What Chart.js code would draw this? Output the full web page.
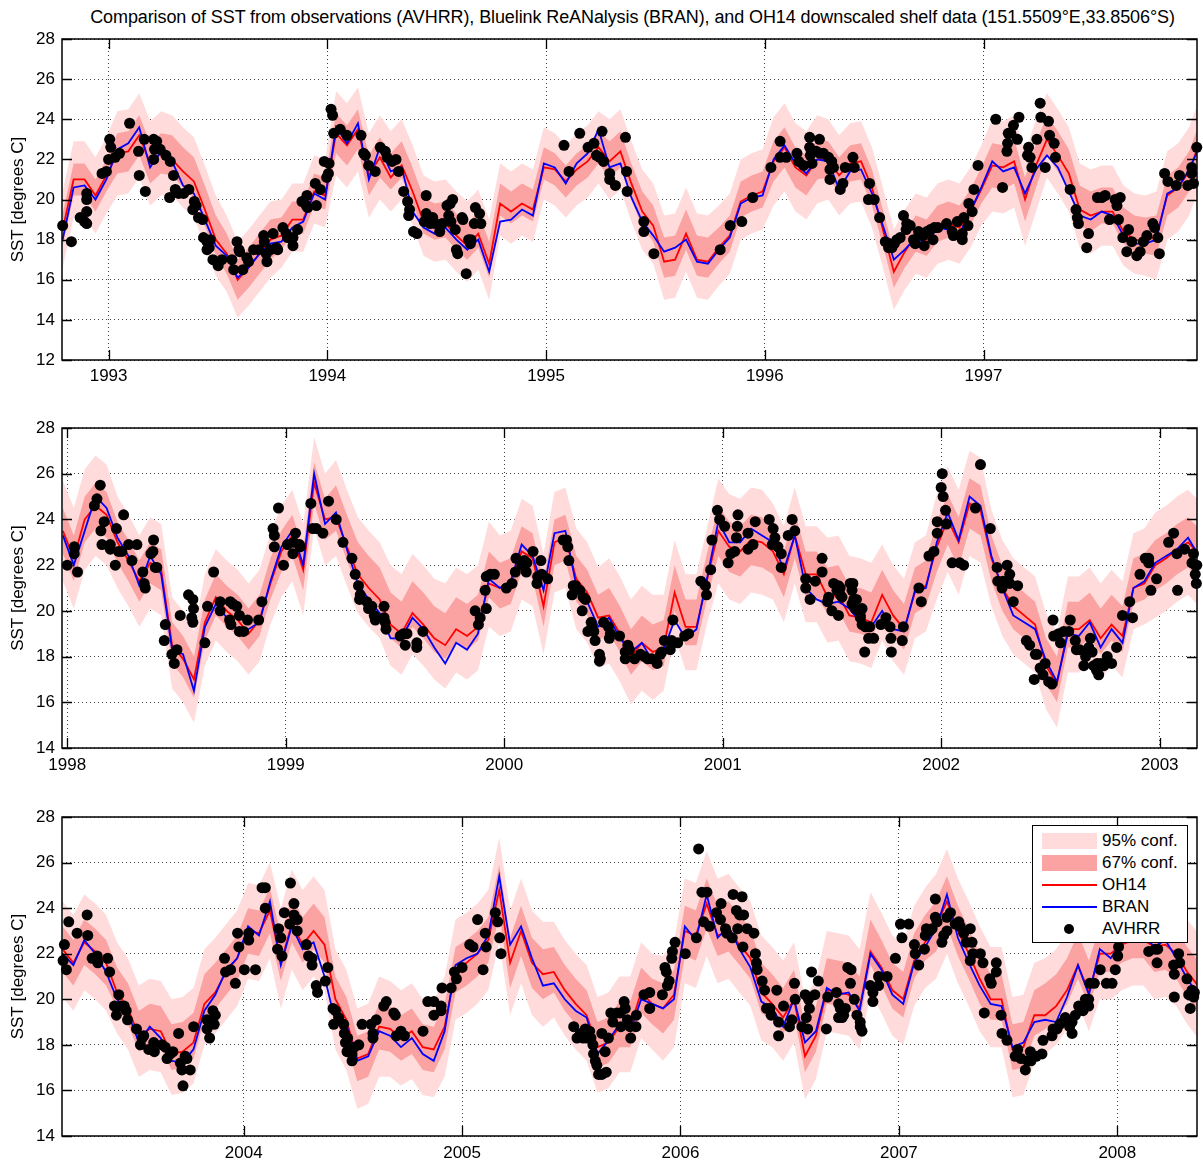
<!DOCTYPE html>
<html>
<head>
<meta charset="utf-8">
<title>SST comparison</title>
<script src="https://cdn.jsdelivr.net/npm/chart.js@4.4.1/dist/chart.umd.min.js"></script>
<style>
  body { margin: 0; background: #fff; font-family: "Liberation Sans", Arial, sans-serif; }
  #page { position: relative; width: 1203px; height: 1164px; overflow: hidden; }
  #title { position: absolute; top: 7px; left: 62px; width: 1141px; text-align: center; font-size: 18px; letter-spacing: -0.1px; color: #000; white-space: nowrap; }
  canvas { position: absolute; left: 0; }
  #legend { position: absolute; left: 1032px; top: 825px; width: 154px; height: 116px; border: 1px solid #000; background: #fff; z-index: 5; }
  #legend .row { position: absolute; left: 0; height: 22px; width: 154px; font-size: 17px; line-height: 22px; }
  #legend .txt { position: absolute; left: 69px; top: 0; }
  #legend .box { position: absolute; left: 9px; top: 3px; width: 55px; height: 16px; }
  #legend .ln { position: absolute; left: 9px; top: 10px; width: 55px; height: 2px; }
  #legend .dot { position: absolute; left: 31px; top: 6px; width: 10px; height: 10px; border-radius: 50%; background: #000; }
</style>
</head>
<body>
<div id="page">
  <div id="title">Comparison of SST from observations (AVHRR), Bluelink ReANalysis (BRAN), and OH14 downscaled shelf data (151.5509°E,33.8506°S)</div>
  <canvas id="panel1" width="1203" height="390" style="top:0px"></canvas>
  <canvas id="panel2" width="1203" height="390" style="top:390px"></canvas>
  <canvas id="panel3" width="1203" height="384" style="top:780px"></canvas>
  <div id="legend">
    <div class="row" style="top:4px"><span class="box" style="background:rgb(255,219,219)"></span><span class="txt">95% conf.</span></div>
    <div class="row" style="top:26px"><span class="box" style="background:rgb(251,163,163)"></span><span class="txt">67% conf.</span></div>
    <div class="row" style="top:48px"><span class="ln" style="background:#f00"></span><span class="txt">OH14</span></div>
    <div class="row" style="top:70px"><span class="ln" style="background:#00f"></span><span class="txt">BRAN</span></div>
    <div class="row" style="top:92px"><span class="dot"></span><span class="txt">AVHRR</span></div>
  </div>
</div>
<script>
// model output sampled every 0.05 yr from the panel start
const STEP = 0.05;

const p1Start = 1992.79;
const p1Years = [1993, 1994, 1995, 1996, 1997];
const p1Oh14 = [
  18.5, 21.0, 21.0, 20.2, 21.2, 22.3, 22.4, 23.2, 21.8, 22.3,
  22.0, 21.4, 20.9, 19.5, 18.0, 17.3, 16.0, 16.6, 17.3, 18.0,
  18.2, 19.0, 19.0, 20.4, 20.2, 23.3, 22.7, 23.5, 21.2, 22.1,
  21.1, 21.7, 20.4, 18.9, 18.6, 18.8, 18.2, 17.7, 18.3, 16.8,
  19.8, 19.4, 19.8, 19.5, 21.6, 21.5, 20.9, 21.5, 21.9, 22.6,
  21.9, 22.4, 20.8, 19.4, 18.7, 16.9, 17.0, 18.3, 17.0, 16.9,
  17.6, 18.2, 19.9, 20.2, 20.4, 21.9, 22.6, 21.6, 21.2, 22.0,
  22.0, 21.2, 21.8, 21.9, 20.6, 18.5, 16.4, 17.4, 18.2, 18.0,
  18.6, 18.8, 18.6, 19.4, 20.5, 21.7, 21.6, 21.9, 20.0, 21.7,
  23.0, 22.2, 21.3, 19.5, 19.2, 19.4, 19.4, 18.4, 18.0, 17.9,
  18.2, 20.2, 20.6, 21.4, 22.9
];
const p1Bran = [
  18.0, 20.6, 20.7, 20.0, 21.0, 22.5, 22.8, 23.6, 21.6, 22.4,
  21.9, 20.7, 20.3, 19.0, 17.7, 17.2, 16.1, 16.6, 17.3, 17.8,
  17.9, 18.6, 18.9, 20.3, 20.0, 23.6, 22.8, 23.8, 21.0, 22.6,
  21.4, 21.6, 19.4, 18.6, 18.3, 18.6, 18.0, 17.5, 18.0, 16.4,
  18.9, 19.0, 19.5, 19.2, 21.8, 21.6, 20.8, 21.8, 22.3, 23.5,
  21.6, 21.8, 20.1, 18.9, 18.2, 17.4, 17.6, 18.0, 16.9, 16.8,
  17.5, 18.1, 19.8, 20.1, 20.2, 22.0, 22.7, 21.8, 21.3, 22.0,
  21.9, 20.5, 21.4, 21.5, 20.3, 18.7, 17.0, 17.5, 18.1, 17.8,
  18.6, 18.5, 18.3, 19.4, 20.6, 21.9, 21.4, 21.6, 20.3, 21.5,
  22.2, 21.6, 20.4, 19.2, 19.0, 19.4, 19.2, 18.2, 17.8, 17.8,
  18.0, 20.3, 20.6, 21.5, 22.7
];
// confidence band half widths and centre offsets, one value per 0.25 yr
const p1Hw95 = [1.9, 2.1, 2.0, 1.9, 1.7, 2.1, 2.0, 2.0, 1.8, 1.8, 2.0, 2.1, 2.0, 2.2, 2.0, 2.0, 2.0, 2.3, 2.1, 2.0, 2.2];
const p1Hw67 = [0.8, 1.0, 1.0, 1.0, 0.8, 1.0, 0.9, 0.9, 0.8, 0.8, 0.9, 1.0, 0.9, 1.0, 0.9, 0.9, 0.9, 1.1, 1.0, 0.9, 1.0];
const p1Shift = [0, 0, 0.2, 0, 0.1, 0, 0.3, 0.2, 0.2, 0, 0.1, 0.2, 0.1, 0, 0, 0.1, 0.2, 0, 0.2, 0.3, 0];
const p1Avhrr = [
  [1992.79,18.7],[1992.83,17.9],[1992.87,19.1],[1992.89,18.9],[1992.9,18.8],[1992.9,20.3],[1992.9,20.0],[1992.9,19.4],[1992.97,21.3],[1992.99,21.4],
  [1993.0,22.0],[1993.005,23.0],[1993.01,22.6],[1993.03,22.1],[1993.05,22.3],[1993.096,23.8],[1993.137,22.4],[1993.14,21.2],[1993.168,20.4],[1993.163,23.0],
  [1993.206,23.0],[1993.22,22.9],[1993.21,22.5],[1993.206,22.0],[1993.236,22.5],[1993.262,22.2],[1993.282,21.9],[1993.297,21.2],[1993.279,20.1],[1993.305,20.5],
  [1993.32,20.3],[1993.343,20.3],[1993.367,20.5],[1993.392,19.9],[1993.4,19.7],[1993.385,19.5],[1993.411,19.1],[1993.43,19.0],[1993.434,18.1],[1993.45,17.9],
  [1993.46,17.6],[1993.465,18.0],[1993.45,17.5],[1993.477,17.0],[1993.501,16.7],[1993.518,17.0],[1993.564,17.0],[1993.572,16.5],[1993.587,17.9],[1993.596,17.5],
  [1993.599,17.4],[1993.614,16.5],[1993.632,17.1],[1993.64,16.9],[1993.663,17.5],[1993.686,17.5],[1993.709,18.2],[1993.712,17.9],[1993.721,17.3],[1993.724,16.9],
  [1993.752,18.3],[1993.74,17.5],[1993.767,17.6],[1993.773,17.5],[1993.797,18.6],[1993.812,18.3],[1993.818,18.1],[1993.843,18.1],[1993.843,17.7],[1993.864,18.5],
  [1993.884,19.9],[1993.907,20.2],[1993.904,19.7],[1993.91,19.6],[1993.945,20.8],[1993.95,19.7],[1993.968,20.5],[1993.986,21.9],[1994.005,21.3],[1993.997,21.1],
  [1994.008,21.8],[1994.017,24.5],[1994.024,24.2],[1994.029,23.3],[1994.059,23.5],[1994.09,23.2],[1994.154,23.2],[1994.166,22.3],[1994.174,22.2],[1994.189,21.7],
  [1994.219,21.4],[1994.242,22.6],[1994.265,22.4],[1994.273,22.1],[1994.296,21.9],[1994.314,22.0],[1994.326,21.4],[1994.349,20.4],[1994.367,19.9],[1994.376,19.5],
  [1994.372,19.2],[1994.394,18.4],[1994.41,18.3],[1994.452,20.2],[1994.452,19.3],[1994.443,18.9],[1994.47,18.8],[1994.482,19.1],[1994.494,18.8],[1994.514,18.4],
  [1994.525,18.8],[1994.547,19.7],[1994.555,19.2],[1994.562,19.8],[1994.573,20.0],[1994.565,18.9],[1994.585,18.5],[1994.59,17.5],[1994.596,17.3],[1994.616,19.1],
  [1994.62,19.0],[1994.635,16.3],[1994.654,17.8],[1994.657,18.0],[1994.646,18.0],[1994.672,18.8],[1994.677,19.6],[1994.696,19.3],[1994.702,18.8],
  [1995.082,22.7],[1995.105,21.4],[1995.154,23.3],[1995.192,22.6],[1995.219,22.8],[1995.256,23.4],[1995.23,22.2],[1995.245,22.1],[1995.263,21.9],[1995.291,21.3],
  [1995.291,21.0],[1995.317,20.7],[1995.363,23.1],[1995.368,21.4],[1995.371,20.4],[1995.447,18.9],[1995.447,18.4],[1995.493,17.3],[1995.796,17.5],[1995.842,18.7],
  [1995.895,18.9],[1995.945,20.1],[1996.028,21.6],[1996.07,22.9],[1996.07,22.1],[1996.098,22.1],[1996.147,22.3],[1996.155,21.9],[1996.178,21.7],[1996.205,23.1],
  [1996.205,22.6],[1996.216,21.8],[1996.235,22.4],[1996.25,23.0],[1996.208,22.2],[1996.253,22.3],[1996.268,22.3],[1996.291,22.1],[1996.306,21.9],[1996.298,21.5],
  [1996.298,21.0],[1996.314,21.6],[1996.345,20.5],[1996.357,20.8],[1996.368,21.6],[1996.403,22.1],[1996.409,21.6],[1996.479,20.8],[1996.474,20.0],[1996.5,20.0],
  [1996.525,19.1],[1996.551,17.9],[1996.566,17.6],[1996.581,17.6],[1996.592,17.8],[1996.604,18.0],[1996.619,18.1],[1996.574,17.8],[1996.634,19.2],[1996.649,18.8],
  [1996.646,18.5],[1996.665,18.7],[1996.68,18.0],[1996.688,17.8],[1996.703,18.4],[1996.723,18.2],[1996.729,17.7],[1996.741,18.4],[1996.757,18.5],[1996.769,18.0],
  [1996.775,18.6],[1996.791,18.6],[1996.831,18.8],[1996.857,18.4],[1996.862,18.2],[1996.88,18.9],[1996.903,18.3],[1996.903,18.0],[1996.91,19.1],[1996.929,18.7],
  [1996.933,19.8],[1996.948,19.4],[1996.956,20.5],[1996.975,21.7],[1997.056,24.0],[1997.087,20.6],[1997.107,22.4],[1997.11,22.8],[1997.113,23.3],[1997.125,23.3],
  [1997.137,23.7],[1997.155,23.0],[1997.162,24.1],[1997.206,22.6],[1997.201,22.2],[1997.213,22.1],[1997.221,21.6],[1997.244,23.0],[1997.259,24.8],[1997.262,24.1],
  [1997.282,21.6],[1997.297,23.9],[1997.302,23.2],[1997.323,22.8],[1997.329,22.1],[1997.396,20.5],[1997.423,19.5],[1997.429,19.1],[1997.434,18.8],[1997.48,18.3],
  [1997.472,17.6],[1997.521,20.1],[1997.541,20.1],[1997.556,20.2],[1997.576,19.0],[1997.602,20.0],[1997.61,19.7],[1997.625,20.1],[1997.617,19.0],[1997.637,18.1],
  [1997.655,17.4],[1997.663,18.5],[1997.678,17.9],[1997.701,17.2],[1997.716,17.4],[1997.731,17.9],[1997.747,18.2],[1997.774,18.8],[1997.782,18.6],[1997.797,18.1],
  [1997.804,17.3],[1997.828,21.3],[1997.843,20.9],[1997.881,20.7],[1997.896,21.2],[1997.934,20.7],[1997.952,21.6],[1997.952,21.3],[1997.96,20.8],[1997.975,22.6]
];

const p2Start = 1997.98;
const p2Years = [1998, 1999, 2000, 2001, 2002, 2003];
const p2Oh14 = [
  23.5, 22.3, 24.0, 24.6, 24.2, 23.0, 22.2, 21.3, 22.1, 21.8,
  18.5, 17.9, 17.0, 19.5, 20.6, 20.0, 19.6, 19.0, 19.6, 21.2,
  22.6, 23.3, 21.8, 25.6, 24.0, 24.1, 22.8, 21.6, 21.0, 20.5,
  19.4, 19.0, 19.9, 19.4, 18.8, 18.5, 19.2, 18.9, 19.3, 21.2,
  21.0, 21.2, 22.6, 22.3, 20.2, 23.0, 23.2, 21.4, 20.8, 19.7,
  19.8, 19.0, 18.0, 18.6, 18.2, 18.4, 20.8, 19.3, 19.3, 21.4,
  23.5, 22.8, 22.6, 23.1, 23.0, 22.6, 21.6, 23.3, 21.6, 21.6,
  20.6, 20.7, 19.8, 19.7, 19.5, 20.7, 19.8, 19.2, 20.8, 21.1,
  22.8, 24.0, 23.0, 24.7, 24.4, 22.3, 21.0, 20.2, 19.8, 19.4,
  17.6, 16.8, 19.2, 19.2, 19.6, 18.8, 19.4, 18.9, 21.0, 21.2,
  22.0, 22.3, 22.7, 23.0, 22.5
];
const p2Bran = [
  23.3, 22.0, 23.5, 25.0, 24.5, 23.2, 22.4, 21.1, 22.4, 21.6,
  18.3, 18.1, 16.5, 19.3, 20.3, 19.7, 19.2, 19.2, 19.5, 21.3,
  22.8, 23.5, 22.0, 26.0, 23.8, 24.3, 22.7, 21.2, 20.5, 19.9,
  18.8, 18.8, 19.7, 19.2, 18.4, 17.7, 18.6, 18.3, 19.0, 21.4,
  21.0, 21.3, 22.9, 22.4, 20.9, 23.4, 23.5, 21.1, 20.4, 19.3,
  19.7, 18.8, 18.2, 18.6, 17.8, 18.3, 19.6, 18.8, 19.2, 21.5,
  23.9, 23.0, 23.0, 23.6, 23.3, 23.0, 21.8, 23.3, 21.0, 20.5,
  20.3, 20.4, 20.1, 19.5, 19.3, 20.0, 19.2, 19.1, 20.9, 21.0,
  23.0, 24.3, 23.1, 25.0, 24.6, 22.4, 21.0, 19.8, 19.5, 19.2,
  17.8, 16.9, 19.0, 18.9, 19.5, 18.4, 19.2, 18.6, 21.0, 21.3,
  22.1, 22.4, 22.7, 23.2, 22.4
];
const p2Hw95 = [2.2, 2.0, 2.0, 2.0, 2.0, 2.1, 2.2, 2.3, 2.2, 2.2, 2.3, 2.1, 2.3, 2.1, 2.3, 2.1, 2.3, 2.1, 2.1, 2.1, 2.3];
const p2Hw67 = [1.0, 0.9, 0.9, 0.9, 0.9, 1.0, 1.0, 1.0, 1.0, 1.0, 1.0, 1.0, 1.1, 1.0, 1.0, 1.0, 1.1, 1.0, 1.0, 1.0, 1.1];
const p2Shift = [0, 0, 0.1, 0.2, 0, 0.4, 0.4, 0.4, 0.1, 0, 0.2, 0.2, 0, 0, 0.3, 0.1, 0, 0, 0.2, 0.3, 0];
const p2Avhrr = [
  [1998.0,22.0],[1998.032,22.8],[1998.032,22.5],[1998.047,21.7],[1998.124,24.6],[1998.136,24.9],[1998.151,25.5],[1998.154,23.5],[1998.159,22.9],[1998.169,23.9],
  [1998.197,22.9],[1998.197,22.7],[1998.22,22.0],[1998.225,23.6],[1998.235,22.6],[1998.25,22.6],[1998.258,24.2],[1998.281,22.9],[1998.296,22.2],[1998.319,22.9],
  [1998.346,21.7],[1998.352,21.2],[1998.357,21.0],[1998.383,22.5],[1998.392,22.6],[1998.395,23.1],[1998.403,21.9],[1998.41,21.9],[1998.449,19.4],[1998.444,18.7],
  [1998.479,18.1],[1998.49,17.7],[1998.502,18.3],[1998.517,19.8],[1998.555,20.7],[1998.575,20.5],[1998.578,20.1],[1998.57,19.7],[1998.575,19.5],[1998.63,18.6],
  [1998.642,20.2],[1998.67,21.7],[1998.7,20.4],[1998.7,20.0],[1998.743,19.6],[1998.746,20.4],[1998.758,20.3],[1998.749,19.4],[1998.776,20.2],[1998.788,19.8],
  [1998.788,19.1],[1998.807,19.1],[1998.825,19.6],[1998.876,19.6],[1998.891,20.4],[1998.942,23.6],[1998.948,23.3],[1998.948,22.8],[1998.967,24.5],[1998.99,22.0],
  [1999.008,22.9],[1999.033,22.5],[1999.036,23.0],[1999.045,23.4],[1999.063,22.9],[1999.066,22.8],[1999.115,24.7],[1999.124,23.6],[1999.14,23.6],[1999.17,23.4],
  [1999.196,24.8],[1999.231,24.0],[1999.262,23.0],[1999.303,22.3],[1999.318,21.6],[1999.333,21.1],[1999.341,20.7],[1999.338,20.5],[1999.371,20.4],[1999.379,20.1],
  [1999.394,20.2],[1999.405,19.8],[1999.41,19.6],[1999.45,20.2],[1999.45,19.7],[1999.455,19.5],[1999.459,19.2],[1999.524,18.9],[1999.539,19.0],[1999.547,18.5],
  [1999.555,19.0],[1999.6,18.4],[1999.6,18.6],[1999.628,19.1],[1999.867,20.0],[1999.89,19.7],[1999.882,19.4],[1999.918,20.1],[1999.913,20.9],[1999.918,21.5],
  [1999.937,21.6],[1999.955,21.6],[2000.01,21.0],[2000.036,21.2],[2000.051,21.7],[2000.054,22.3],[2000.081,22.0],[2000.092,22.2],[2000.101,21.7],[2000.104,22.1],
  [2000.132,22.6],[2000.15,21.2],[2000.153,21.5],[2000.168,22.2],[2000.172,21.6],[2000.199,21.4],[2000.27,23.1],[2000.285,23.1],[2000.291,22.8],[2000.296,22.2],
  [2000.316,21.1],[2000.311,20.7],[2000.326,21.1],[2000.346,20.9],[2000.361,20.6],[2000.357,20.0],[2000.372,20.5],[2000.398,19.5],[2000.401,19.3],[2000.383,19.1],
  [2000.41,19.1],[2000.416,18.7],[2000.436,18.1],[2000.436,17.8],[2000.44,17.9],[2000.455,19.5],[2000.477,19.3],[2000.481,18.8],[2000.486,19.0],[2000.528,18.9],
  [2000.554,18.2],[2000.566,18.5],[2000.573,18.3],[2000.554,17.9],[2000.597,17.9],[2000.624,18.1],[2000.642,18.0],[2000.657,17.9],[2000.675,17.9],[2000.7,17.7],
  [2000.715,18.1],[2000.721,18.2],[2000.733,18.7],[2000.76,18.3],[2000.772,19.6],[2000.767,18.7],[2000.794,18.6],[2000.826,18.9],[2000.844,19.0],[2000.9,21.3],
  [2000.921,21.1],[2000.926,20.7],[2000.945,21.8],[2000.951,23.1],[2000.976,24.4],[2000.986,24.0],[2001.009,23.7],[2001.025,22.1],[2001.037,22.5],[2001.055,22.6],
  [2001.063,23.2],[2001.07,24.2],[2001.067,23.7],[2001.116,23.4],[2001.116,22.7],[2001.139,22.9],[2001.149,23.9],[2001.213,24.0],[2001.231,23.6],[2001.239,23.2],
  [2001.227,22.9],[2001.253,22.8],[2001.268,22.5],[2001.268,21.9],[2001.3,23.3],[2001.318,24.0],[2001.33,23.5],[2001.38,21.4],[2001.38,21.0],[2001.4,20.5],
  [2001.424,21.3],[2001.455,22.3],[2001.455,21.7],[2001.485,20.6],[2001.48,20.4],[2001.5,20.0],[2001.508,21.2],[2001.53,21.1],[2001.523,20.9],[2001.53,19.8],
  [2001.538,20.7],[2001.546,20.6],[2001.538,21.0],[2001.584,21.2],[2001.596,21.2],[2001.592,20.9],[2001.592,20.3],[2001.6,20.5],[2001.612,20.5],[2001.607,20.1],
  [2001.622,20.0],[2001.63,19.8],[2001.638,20.1],[2001.63,19.7],[2001.638,19.4],[2001.653,19.3],[2001.673,19.3],[2001.668,18.8],[2001.691,18.8],[2001.65,18.2],
  [2001.724,19.4],[2001.747,19.7],[2001.766,19.3],[2001.77,18.8],[2001.772,18.2],[2001.827,19.3],[2001.822,18.7],[2001.898,21.0],[2001.909,20.4],[2001.944,22.4],
  [2001.967,22.6],[2001.982,23.4],[2001.982,23.9],[2002.005,26.0],[2002.0,25.4],[2002.009,25.0],[2002.02,24.4],[2002.024,23.8],[2002.05,22.1],[2002.085,22.1],
  [2002.103,22.0],[2002.157,24.5],[2002.18,26.4],[2002.225,23.6],[2002.256,21.9],[2002.259,21.3],[2002.279,21.0],[2002.283,21.3],[2002.302,22.0],[2002.314,21.6],
  [2002.314,21.2],[2002.33,20.4],[2002.35,21.1],[2002.39,18.7],[2002.405,18.5],[2002.431,18.1],[2002.438,18.1],[2002.453,17.5],[2002.476,17.7],[2002.426,17.0],
  [2002.466,17.2],[2002.492,16.9],[2002.507,16.8],[2002.512,19.6],[2002.515,18.9],[2002.538,19.0],[2002.546,18.6],[2002.561,19.1],[2002.584,19.1],[2002.591,19.6],
  [2002.614,18.7],[2002.619,18.3],[2002.634,18.3],[2002.653,17.6],[2002.661,18.0],[2002.676,18.4],[2002.683,18.8],[2002.691,18.2],[2002.698,17.6],[2002.711,17.4],
  [2002.721,17.2],[2002.714,17.7],[2002.73,17.7],[2002.745,17.6],[2002.76,18.0],[2002.78,17.7],[2002.803,18.4],[2002.83,19.8],[2002.863,20.4],[2002.876,19.7],
  [2002.91,21.6],[2002.934,22.3],[2002.95,22.3],[2002.95,22.1],[2002.96,20.9],[2002.986,21.4],[2003.041,23.0],[2003.064,23.4],[2003.079,22.5],[2003.082,20.9],
  [2003.114,22.7],[2003.155,22.5],[2003.148,22.1],[2003.163,22.0],[2003.17,22.0],[2003.163,21.6],[2003.168,21.2]
];

const p3Start = 2003.17;
const p3Years = [2004, 2005, 2006, 2007, 2008];
const p3Oh14 = [
  22.2, 21.6, 22.5, 22.1, 21.6, 20.3, 19.6, 18.4, 18.7, 18.6,
  17.6, 17.7, 18.1, 19.8, 20.3, 21.2, 21.8, 23.0, 22.9, 23.9,
  21.6, 23.3, 22.4, 23.0, 22.4, 20.0, 19.1, 17.4, 17.6, 18.8,
  18.7, 18.3, 18.6, 17.9, 17.8, 18.8, 21.3, 21.6, 22.0, 22.6,
  24.8, 21.6, 23.0, 21.6, 21.1, 21.2, 20.4, 19.8, 19.3, 17.9,
  18.1, 18.8, 18.8, 20.3, 19.8, 19.6, 20.2, 23.0, 22.8, 24.2,
  22.8, 23.0, 22.4, 21.8, 20.3, 19.8, 19.2, 20.0, 17.5, 18.4,
  20.4, 20.3, 20.2, 19.6, 22.1, 21.4, 20.4, 20.0, 21.7, 22.5,
  23.2, 24.3, 23.0, 22.0, 20.9, 20.0, 20.0, 17.8, 17.9, 19.3,
  19.3, 19.7, 20.4, 21.5, 20.3, 22.0, 22.0, 22.4, 22.6, 22.6,
  22.3, 22.4, 22.0, 21.2, 20.6
];
const p3Bran = [
  22.0, 21.5, 22.6, 22.0, 21.2, 20.0, 19.4, 18.1, 18.8, 18.3,
  17.3, 17.2, 17.8, 19.5, 20.2, 21.3, 21.8, 23.2, 22.8, 24.3,
  21.5, 23.2, 22.2, 22.5, 21.0, 19.0, 18.9, 17.3, 17.5, 18.6,
  18.4, 17.9, 18.3, 17.6, 17.3, 18.6, 21.5, 21.8, 22.0, 22.8,
  25.4, 22.4, 23.2, 21.8, 20.6, 20.7, 20.0, 19.5, 19.2, 17.6,
  18.2, 18.9, 18.6, 20.0, 19.8, 19.6, 20.0, 23.2, 22.6, 24.6,
  22.7, 23.2, 22.2, 21.4, 19.9, 19.6, 18.8, 20.0, 18.1, 18.6,
  20.5, 20.2, 20.3, 19.5, 22.0, 21.3, 20.2, 19.8, 21.6, 22.3,
  23.1, 24.6, 22.7, 21.6, 20.6, 19.8, 19.7, 17.9, 18.1, 19.0,
  19.1, 19.0, 20.1, 21.5, 20.2, 22.2, 21.8, 22.5, 22.6, 22.8,
  22.3, 22.6, 21.8, 20.9, 20.2
];
const p3Hw95 = [2.1, 2.0, 2.1, 2.1, 2.2, 2.2, 2.1, 2.2, 2.3, 2.1, 2.1, 2.3, 2.3, 2.2, 2.2, 2.2, 2.3, 2.2, 2.1, 2.2, 2.3];
const p3Hw67 = [1.0, 0.9, 1.0, 1.0, 1.0, 1.0, 1.0, 1.0, 1.1, 1.0, 1.0, 1.1, 1.1, 1.0, 1.0, 1.0, 1.1, 1.0, 1.0, 1.0, 1.1];
const p3Shift = [0, 0.2, 0.3, 0, 0.2, 0, 0, 0, 0, 0.1, 0.1, 0, 0.2, 0.3, 0.4, 0.2, 0, 0.1, 0.4, 0.2, 0];
const p3Avhrr = [
  [2003.173,21.7],[2003.179,22.4],[2003.188,21.3],[2003.199,23.4],[2003.237,22.9],[2003.283,23.7],[2003.286,22.8],[2003.306,21.8],[2003.329,21.9],[2003.332,21.6],
  [2003.377,21.8],[2003.386,21.2],[2003.428,20.2],[2003.408,19.7],[2003.417,19.3],[2003.435,19.7],[2003.453,19.7],[2003.462,19.5],[2003.468,19.1],[2003.509,18.7],
  [2003.527,18.0],[2003.535,18.3],[2003.542,18.4],[2003.565,17.8],[2003.588,18.1],[2003.591,17.7],[2003.626,18.0],[2003.641,17.9],[2003.649,17.4],[2003.664,17.6],
  [2003.676,17.7],[2003.702,18.5],[2003.71,17.2],[2003.717,16.9],[2003.722,16.2],[2003.732,17.5],[2003.74,17.4],[2003.755,16.9],[2003.771,18.8],[2003.832,19.1],
  [2003.832,18.7],[2003.844,18.3],[2003.859,19.5],[2003.87,19.3],[2003.865,18.9],[2003.912,21.8],[2003.917,21.2],[2003.94,21.3],[2003.962,20.7],[2003.972,22.9],
  [2003.978,22.3],[2004.003,21.3],[2004.023,22.9],[2004.023,22.6],[2004.054,21.3],[2004.084,24.9],[2004.099,24.9],[2004.099,24.0],[2004.16,23.1],[2004.17,22.7],
  [2004.155,22.2],[2004.175,21.9],[2004.186,23.8],[2004.214,25.1],[2004.23,24.2],[2004.211,23.3],[2004.23,23.7],[2004.245,23.5],[2004.245,23.0],[2004.287,22.4],
  [2004.297,21.9],[2004.313,21.8],[2004.313,21.5],[2004.332,20.6],[2004.338,20.3],[2004.374,20.8],[2004.385,21.4],[2004.409,19.6],[2004.42,19.5],[2004.412,18.9],
  [2004.435,19.2],[2004.458,18.9],[2004.461,18.5],[2004.476,18.3],[2004.466,18.1],[2004.473,17.7],[2004.496,17.6],[2004.496,17.3],[2004.507,17.9],[2004.527,18.0],
  [2004.542,18.9],[2004.583,18.9],[2004.592,18.5],[2004.592,18.3],[2004.607,19.1],[2004.641,19.7],[2004.653,19.9],[2004.687,19.4],[2004.694,19.3],[2004.699,18.4],
  [2004.72,18.6],[2004.736,18.4],[2004.821,18.6],[2004.843,19.9],[2004.871,19.9],[2004.871,19.3],[2004.904,19.7],[2004.904,19.5],[2004.908,20.5],[2004.95,20.5],
  [2004.965,21.2],[2004.974,20.9],[2005.0,21.4],[2005.035,22.4],[2005.05,22.3],[2005.071,23.5],[2005.096,21.3],[2005.106,22.9],[2005.11,22.3],[2005.152,23.8],
  [2005.163,23.4],[2005.172,22.7],[2005.178,22.0],[2005.511,18.8],[2005.526,18.3],[2005.541,18.5],[2005.554,18.3],[2005.564,18.7],[2005.572,18.3],[2005.584,18.6],
  [2005.59,18.3],[2005.599,18.0],[2005.602,17.6],[2005.61,17.3],[2005.617,17.1],[2005.625,16.7],[2005.64,16.7],[2005.66,16.8],[2005.64,18.5],[2005.655,17.7],
  [2005.67,18.3],[2005.681,19.4],[2005.69,19.0],[2005.709,19.4],[2005.724,19.4],[2005.727,18.8],[2005.742,19.9],[2005.747,19.6],[2005.757,19.1],[2005.769,18.8],
  [2005.796,18.8],[2005.772,18.3],[2005.798,19.3],[2005.833,20.2],[2005.859,20.3],[2005.859,19.6],[2005.917,20.2],[2005.929,21.4],[2005.935,21.2],[2005.948,20.8],
  [2005.94,20.6],[2005.96,21.8],[2005.963,22.1],[2005.975,22.5],[2006.022,22.0],[2006.073,22.7],[2006.083,26.6],[2006.098,24.7],[2006.106,23.4],[2006.121,24.7],
  [2006.133,23.2],[2006.165,23.8],[2006.186,24.2],[2006.183,23.5],[2006.206,23.1],[2006.211,22.9],[2006.237,22.7],[2006.241,24.6],[2006.256,23.9],[2006.282,24.5],
  [2006.262,23.1],[2006.271,23.7],[2006.289,23.7],[2006.286,22.3],[2006.305,23.1],[2006.336,22.9],[2006.343,22.0],[2006.348,21.6],[2006.351,21.3],[2006.374,20.8],
  [2006.385,20.4],[2006.394,19.6],[2006.409,19.6],[2006.415,19.3],[2006.441,20.4],[2006.449,19.0],[2006.449,18.4],[2006.472,19.7],[2006.499,18.8],[2006.51,19.1],
  [2006.522,20.7],[2006.525,20.0],[2006.556,18.8],[2006.571,20.2],[2006.576,19.2],[2006.582,18.7],[2006.586,20.0],[2006.59,19.6],[2006.6,21.2],[2006.615,20.2],
  [2006.631,20.8],[2006.668,18.7],[2006.674,20.1],[2006.714,20.3],[2006.724,19.8],[2006.732,19.6],[2006.724,19.2],[2006.74,19.2],[2006.747,19.3],[2006.755,19.6],
  [2006.766,21.4],[2006.781,21.3],[2006.778,20.7],[2006.796,20.0],[2006.808,19.3],[2006.823,19.0],[2006.831,18.6],[2006.823,18.8],[2006.869,20.6],[2006.881,20.3],
  [2006.881,19.9],[2006.907,21.0],[2006.907,20.6],[2006.946,21.0],[2006.984,21.8],[2007.007,23.3],[2007.014,22.7],[2007.045,23.3],[2007.071,22.4],[2007.075,22.0],
  [2007.091,21.5],[2007.117,22.2],[2007.121,22.8],[2007.126,23.1],[2007.141,23.0],[2007.152,23.1],[2007.167,24.4],[2007.167,23.6],[2007.175,23.4],[2007.197,22.5],
  [2007.205,22.8],[2007.22,23.6],[2007.22,23.0],[2007.236,23.8],[2007.258,23.3],[2007.274,23.4],[2007.281,23.2],[2007.297,22.9],[2007.309,22.5],[2007.327,23.1],
  [2007.335,22.5],[2007.339,22.0],[2007.327,21.7],[2007.373,22.0],[2007.385,21.6],[2007.416,20.9],[2007.423,20.7],[2007.446,21.6],[2007.446,21.2],[2007.391,19.4],
  [2007.468,19.3],[2007.472,18.5],[2007.495,18.2],[2007.533,17.5],[2007.544,17.8],[2007.559,17.4],[2007.579,16.9],[2007.59,17.3],[2007.602,17.7],[2007.605,17.3],
  [2007.629,17.5],[2007.655,17.6],[2007.66,18.2],[2007.701,18.4],[2007.706,18.7],[2007.724,18.7],[2007.736,18.9],[2007.751,19.0],[2007.762,19.2],[2007.782,18.8],
  [2007.793,18.5],[2007.793,19.0],[2007.808,19.3],[2007.823,19.7],[2007.843,19.5],[2007.854,20.0],[2007.869,20.0],[2007.869,19.7],[2007.874,20.7],[2007.895,20.7],
  [2007.922,21.3],[2007.95,20.7],[2007.976,20.7],[2007.991,21.3],[2008.002,21.9],[2008.006,22.3],[2008.144,22.1],[2008.174,22.2],[2008.182,21.6],[2008.185,22.2],
  [2008.258,21.5],[2008.261,21.1],[2008.261,20.1],[2008.281,22.0],[2008.286,21.6],[2008.319,20.9],[2008.327,20.2],[2008.334,19.6],[2008.342,20.4],[2008.35,20.1],
  [2008.353,20.3]
];

const PINK95 = 'rgb(255,219,219)';
const PINK67 = 'rgb(251,163,163)';

Chart.defaults.font.family = '"Liberation Sans", Arial, sans-serif';
Chart.defaults.color = '#000';

function toPoints(start, vals) {
  return vals.map((v, k) => ({ x: start + k * STEP, y: v }));
}

// band edge = OH14 + shift +/- half width, block values hold for 0.25 yr (5 samples)
function bandEdge(oh, shift, hw, sign) {
  return oh.map((v, k) => {
    const j = Math.floor(k / 5);
    return +(v + shift[j] + sign * hw[j]).toFixed(2);
  });
}

// MATLAB style box with inward tick marks
const frame = {
  id: 'frame',
  afterDatasetsDraw(chart) {
    const { ctx, chartArea: a, scales } = chart;
    ctx.save();
    ctx.strokeStyle = '#000';
    ctx.lineWidth = 1.3;
    ctx.beginPath();
    scales.x.ticks.forEach(t => {
      const px = Math.round(scales.x.getPixelForValue(t.value)) + 0.5;
      ctx.moveTo(px, a.bottom); ctx.lineTo(px, a.bottom - 10);
      ctx.moveTo(px, a.top); ctx.lineTo(px, a.top + 10);
    });
    scales.y.ticks.forEach(t => {
      const py = Math.round(scales.y.getPixelForValue(t.value)) + 0.5;
      ctx.moveTo(a.left, py); ctx.lineTo(a.left + 10, py);
      ctx.moveTo(a.right, py); ctx.lineTo(a.right - 10, py);
    });
    ctx.stroke();
    ctx.lineWidth = 1.5;
    ctx.strokeRect(a.left, a.top, a.right - a.left, a.bottom - a.top);
    ctx.restore();
  }
};

function drawPanel(id, p) {
  const thin = { borderWidth: 0, borderColor: 'transparent', pointRadius: 0, tension: 0 };
  return new Chart(document.getElementById(id), {
    type: 'line',
    data: {
      datasets: [
        { ...thin, label: '95% conf.', data: toPoints(p.start, bandEdge(p.oh14, p.shift, p.hw95, 1)), fill: '+1', backgroundColor: PINK95, order: 5 },
        { ...thin, label: '95% low', data: toPoints(p.start, bandEdge(p.oh14, p.shift, p.hw95, -1)), fill: false, order: 5 },
        { ...thin, label: '67% conf.', data: toPoints(p.start, bandEdge(p.oh14, p.shift, p.hw67, 1)), fill: '+1', backgroundColor: PINK67, order: 4 },
        { ...thin, label: '67% low', data: toPoints(p.start, bandEdge(p.oh14, p.shift, p.hw67, -1)), fill: false, order: 4 },
        { label: 'OH14', data: toPoints(p.start, p.oh14), borderColor: '#ff0000', borderWidth: 1.8, pointRadius: 0, tension: 0, fill: false, order: 3 },
        { label: 'BRAN', data: toPoints(p.start, p.bran), borderColor: '#0000ff', borderWidth: 1.8, pointRadius: 0, tension: 0, fill: false, order: 2 },
        { label: 'AVHRR', data: p.obs.map(o => ({ x: o[0], y: o[1] })), showLine: false, pointRadius: 5.5, pointBorderWidth: 0,
          pointBackgroundColor: '#000', borderColor: '#000', clip: 8, order: 1 }
      ]
    },
    options: {
      responsive: false,
      animation: false,
      devicePixelRatio: 1,
      layout: { padding: { top: p.padTop, right: 6, left: 0, bottom: 0 } },
      plugins: { legend: { display: false }, tooltip: { enabled: false } },
      scales: {
        x: {
          type: 'linear', min: p.xMin, max: p.xMax,
          afterFit: s => { s.height = p.axisH; },
          afterBuildTicks: s => { s.ticks = p.years.map(v => ({ value: v })); },
          ticks: { font: { size: 17 }, padding: p.labelPad, callback: v => String(v), autoSkip: false, maxRotation: 0 },
          grid: { color: 'rgba(0,0,0,0.75)', lineWidth: 1, drawTicks: false },
          border: { display: false, dash: [1, 3] }
        },
        y: {
          min: p.yMin, max: 28,
          afterFit: s => { s.width = 62; },
          ticks: { stepSize: 2, font: { size: 17 }, padding: 7 },
          grid: { color: 'rgba(0,0,0,0.75)', lineWidth: 1, drawTicks: false },
          border: { display: false, dash: [1, 3] },
          title: { display: true, text: 'SST [degrees C]', font: { size: 17 }, padding: { top: 8, bottom: 0 } }
        }
      }
    },
    plugins: [frame]
  });
}

drawPanel('panel1', { start: p1Start, oh14: p1Oh14, bran: p1Bran, hw95: p1Hw95, hw67: p1Hw67, shift: p1Shift, obs: p1Avhrr,
  years: p1Years, xMin: 1992.787, xMax: 1997.976, yMin: 12, padTop: 39, axisH: 30, labelPad: 6 });
drawPanel('panel2', { start: p2Start, oh14: p2Oh14, bran: p2Bran, hw95: p2Hw95, hw67: p2Hw67, shift: p2Shift, obs: p2Avhrr,
  years: p2Years, xMin: 1997.976, xMax: 2003.171, yMin: 14, padTop: 38, axisH: 32, labelPad: 7 });
drawPanel('panel3', { start: p3Start, oh14: p3Oh14, bran: p3Bran, hw95: p3Hw95, hw67: p3Hw67, shift: p3Shift, obs: p3Avhrr,
  years: p3Years, xMin: 2003.168, xMax: 2008.365, yMin: 14, padTop: 37, axisH: 28, labelPad: 7 });
</script>
</body>
</html>
